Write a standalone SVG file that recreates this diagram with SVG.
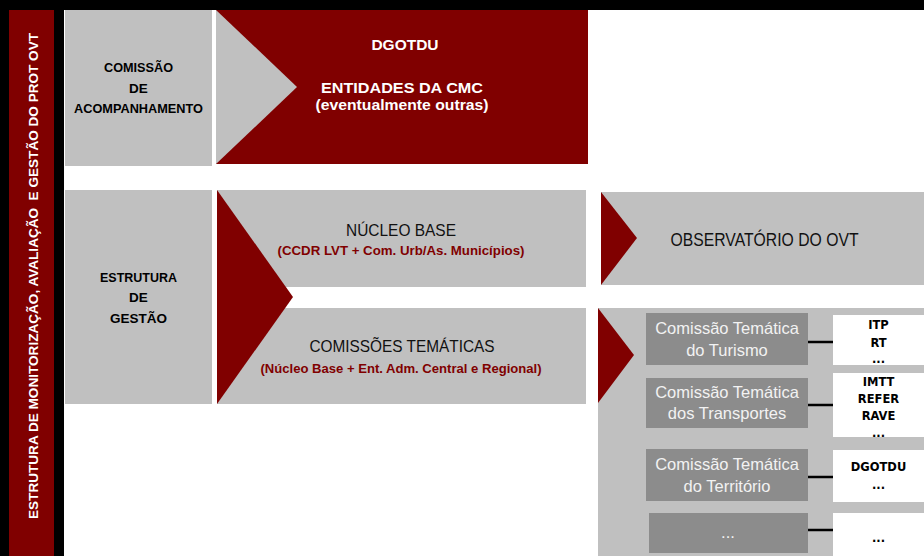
<svg xmlns="http://www.w3.org/2000/svg" width="924" height="556" viewBox="0 0 924 556">
<style>
.lbl{font-family:"Liberation Sans",Arial,sans-serif;font-weight:bold;font-size:13.5px;fill:#000;text-anchor:middle}
.wt{font-family:"Liberation Sans",Arial,sans-serif;font-weight:bold;font-size:15.5px;fill:#fff;text-anchor:middle}
.cond{font-family:"Liberation Sans",Arial,sans-serif;fill:#111;text-anchor:middle}
.sub{font-family:"Liberation Sans",Arial,sans-serif;font-weight:bold;font-size:13.5px;fill:#800000;text-anchor:middle}
.ct{font-family:"Liberation Sans",Arial,sans-serif;font-size:16.5px;fill:#f2f2f2;text-anchor:middle}
.ent{font-family:"DejaVu Sans",Verdana,sans-serif;font-weight:bold;font-size:11.5px;fill:#000;text-anchor:middle}
.red{fill:#800000}
.gray{fill:#c0c0c0}
.dgray{fill:#8c8c8c}
.conn{stroke:#000;stroke-width:2.5}
</style>
<rect x="0" y="0" width="924" height="556" fill="#fff"/>
<rect x="0" y="0" width="924" height="10" fill="#000"/>
<rect x="0" y="0" width="64" height="556" fill="#000"/>
<g id="side-bar">
<rect x="9" y="10" width="45" height="546" class="red"/>
<text transform="translate(38,519) rotate(-90)" style="white-space:pre" xml:space="preserve" font-family="Liberation Sans, Arial, sans-serif" font-weight="bold" font-size="13" fill="#fff" textLength="486" lengthAdjust="spacingAndGlyphs">ESTRUTURA DE MONITORIZAÇÃO, AVALIAÇÃO  E GESTÃO DO PROT OVT</text>
</g>
<g id="comissao-acompanhamento">
<rect x="65" y="10" width="147" height="156" class="gray"/>
<text class="lbl" x="138.5" y="72" textLength="69" lengthAdjust="spacingAndGlyphs">COMISSÃO</text>
<text class="lbl" x="138.5" y="93">DE</text>
<text class="lbl" x="138.5" y="113" textLength="129" lengthAdjust="spacingAndGlyphs">ACOMPANHAMENTO</text>
</g>
<g id="entidades-cmc">
<rect x="216" y="10" width="372" height="154" class="red"/>
<polygon points="216,10 297,87 216,164" class="gray"/>
<text class="wt" x="405" y="50">DGOTDU</text>
<text class="wt" x="402" y="93" textLength="162" lengthAdjust="spacingAndGlyphs">ENTIDADES DA CMC</text>
<text class="wt" x="402" y="110" textLength="173" lengthAdjust="spacingAndGlyphs">(eventualmente outras)</text>
</g>
<g id="estrutura-gestao">
<rect x="65" y="190" width="147" height="214" class="gray"/>
<text class="lbl" x="138.5" y="282" textLength="77" lengthAdjust="spacingAndGlyphs">ESTRUTURA</text>
<text class="lbl" x="138.5" y="302">DE</text>
<text class="lbl" x="138.5" y="323">GESTÃO</text>
</g>
<g id="nucleo-base">
<rect x="217" y="190" width="369" height="97" class="gray"/>
<text class="cond" x="401" y="236" font-size="17" textLength="110" lengthAdjust="spacingAndGlyphs">NÚCLEO BASE</text>
<text class="sub" x="401" y="255" textLength="247" lengthAdjust="spacingAndGlyphs">(CCDR LVT + Com. Urb/As. Municípios)</text>
</g>
<g id="comissoes-tematicas">
<rect x="217" y="308" width="369" height="96" class="gray"/>
<text class="cond" x="402" y="352" font-size="17" textLength="185" lengthAdjust="spacingAndGlyphs">COMISSÕES TEMÁTICAS</text>
<text class="sub" x="401" y="373" textLength="281" lengthAdjust="spacingAndGlyphs">(Núcleo Base + Ent. Adm. Central e Regional)</text>
</g>
<polygon id="gestao-chevron" points="217,190 293,297 217,404" class="red"/>
<g id="observatorio">
<rect x="601" y="192" width="323" height="93" class="gray"/>
<polygon points="601,192 637,238 601,285" class="red"/>
<text class="cond" x="764.5" y="246" font-size="19" textLength="188" lengthAdjust="spacingAndGlyphs">OBSERVATÓRIO DO OVT</text>
</g>
<g id="painel-comissoes">
<rect x="598" y="308" width="326" height="248" class="gray"/>
<polygon points="598,308 634,355 598,403" class="red"/>
</g>
<g id="ct-turismo">
<rect x="646" y="313" width="162" height="52" class="dgray"/>
<text class="ct" x="727" y="334">Comissão Temática</text>
<text class="ct" x="727" y="356">do Turismo</text>
</g>
<g id="ct-transportes">
<rect x="646" y="378" width="162" height="50" class="dgray"/>
<text class="ct" x="727" y="398">Comissão Temática</text>
<text class="ct" x="727" y="419">dos Transportes</text>
</g>
<g id="ct-territorio">
<rect x="646" y="449" width="162" height="52" class="dgray"/>
<text class="ct" x="727" y="470">Comissão Temática</text>
<text class="ct" x="727" y="492">do Território</text>
</g>
<g id="ct-outras">
<rect x="649" y="513" width="159" height="40" class="dgray"/>
<text class="ct" x="728" y="538">...</text>
</g>
<g id="ent-turismo">
<rect x="833" y="315" width="91" height="50" fill="#fff"/>
<text class="ent" x="878.5" y="329">ITP</text>
<text class="ent" x="878.5" y="347">RT</text>
<text class="ent" x="878.5" y="363">...</text>
</g>
<g id="ent-transportes">
<rect x="833" y="373" width="91" height="64" fill="#fff"/>
<text class="ent" x="878.5" y="386">IMTT</text>
<text class="ent" x="878.5" y="403">REFER</text>
<text class="ent" x="878.5" y="420">RAVE</text>
<text class="ent" x="878.5" y="437">...</text>
</g>
<g id="ent-territorio">
<rect x="833" y="450" width="91" height="52" fill="#fff"/>
<text class="ent" x="878.5" y="471">DGOTDU</text>
<text class="ent" x="878.5" y="489">...</text>
</g>
<g id="ent-outras">
<rect x="833" y="513" width="91" height="43" fill="#fff"/>
<text class="ent" x="878.5" y="542">...</text>
</g>
<g id="connectors">
<line class="conn" x1="808" y1="342" x2="833" y2="342"/>
<line class="conn" x1="808" y1="405" x2="833" y2="405"/>
<line class="conn" x1="808" y1="477" x2="833" y2="477"/>
<line class="conn" x1="808" y1="530" x2="833" y2="530"/>
</g>
</svg>
